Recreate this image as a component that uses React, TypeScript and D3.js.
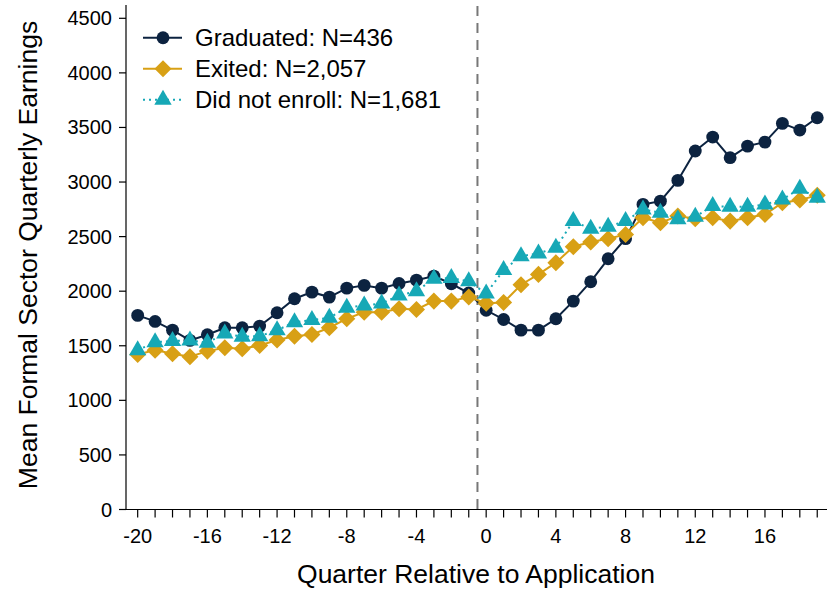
import React, { useEffect, useRef } from "react";
import * as d3 from "d3";

const width = 827;
const height = 592;

const quarters = d3.range(-20, 20);
const graduated = [
  1778, 1723, 1643, 1549, 1601, 1665, 1665, 1680, 1802, 1931, 1991, 1946, 2028, 2053, 2028, 2071, 2101, 2138, 2068, 1983,
  1825, 1741, 1643, 1643, 1747, 1909, 2087, 2297, 2481, 2795, 2825, 3015, 3284, 3412, 3223, 3329, 3366, 3537, 3476, 3589,
];
const exited = [
  1420, 1460, 1427, 1399, 1451, 1482, 1473, 1503, 1552, 1588, 1604, 1665, 1748, 1808, 1808, 1839, 1833, 1909, 1909, 1946,
  1889, 1897, 2059, 2154, 2261, 2407, 2450, 2481, 2520, 2673, 2627, 2688, 2664, 2673, 2642, 2673, 2703, 2811, 2835, 2878,
];
const notEnrolled = [
  1460, 1533, 1543, 1549, 1528, 1613, 1583, 1588, 1643, 1716, 1735, 1757, 1849, 1869, 1888, 1961, 2000, 2114, 2120, 2090,
  1978, 2193, 2321, 2346, 2398, 2642, 2572, 2591, 2642, 2749, 2719, 2658, 2682, 2780, 2774, 2774, 2795, 2841, 2939, 2856,
];
const yTicks = [0, 500, 1000, 1500, 2000, 2500, 3000, 3500, 4000, 4500];
const xLabelTicks = [-20, -16, -12, -8, -4, 0, 4, 8, 12, 16];

const series = [
  { label: "Graduated: N=436", values: graduated, color: "#0c2340", symbol: d3.symbolCircle, size: 130, dash: null },
  { label: "Exited: N=2,057", values: exited, color: "#d8a015", symbol: d3.symbolDiamond2, size: 185, dash: null },
  { label: "Did not enroll: N=1,681", values: notEnrolled, color: "#16a8b6", symbol: d3.symbolTriangle, size: 130, dash: "2,4" },
];

const font = "'Liberation Sans', Arial, sans-serif";

const x = d3.scaleLinear([-20.67, 19.56], [126, 827]);
const y = d3.scaleLinear([0, 4500], [509.5, 18.3]);

export default function App() {
  const ref = useRef<SVGSVGElement>(null);

  useEffect(() => {
    const svg = d3.select(ref.current);
    svg.selectAll("*").remove();

    // axes
    const yAxis = svg.append("g").attr("transform", `translate(126,0)`);
    yAxis.append("line").attr("x1", 0).attr("x2", 0).attr("y1", 5).attr("y2", 509.5).attr("stroke", "#000").attr("stroke-width", 1.2);
    yTicks.forEach((t) => {
      yAxis.append("line").attr("x1", -7).attr("x2", 0).attr("y1", y(t)).attr("y2", y(t)).attr("stroke", "#000").attr("stroke-width", 1.2);
      yAxis
        .append("text")
        .attr("x", -14)
        .attr("y", y(t))
        .attr("dy", "0.35em")
        .attr("text-anchor", "end")
        .attr("font-size", 20)
        .text(t);
    });

    const xAxis = svg.append("g").attr("transform", `translate(0,509.5)`);
    xAxis.append("line").attr("x1", 126).attr("x2", 827).attr("y1", 0).attr("y2", 0).attr("stroke", "#000").attr("stroke-width", 1.2);
    quarters.forEach((q) => {
      xAxis.append("line").attr("x1", x(q)).attr("x2", x(q)).attr("y1", 0).attr("y2", 8).attr("stroke", "#000").attr("stroke-width", 1.2);
    });
    xLabelTicks.forEach((q) => {
      xAxis
        .append("text")
        .attr("x", x(q))
        .attr("y", 33)
        .attr("text-anchor", "middle")
        .attr("font-size", 20)
        .text(q);
    });

    // application cutoff
    svg
      .append("line")
      .attr("x1", x(-0.5))
      .attr("x2", x(-0.5))
      .attr("y1", 6)
      .attr("y2", 509.5)
      .attr("stroke", "#777")
      .attr("stroke-width", 2)
      .attr("stroke-dasharray", "10,7");

    // series
    series.forEach((s) => {
      const pts = quarters.map((q, i) => [q, s.values[i]] as [number, number]);
      svg
        .append("path")
        .attr("d", d3.line().x((d) => x(d[0])).y((d) => y(d[1]))(pts))
        .attr("fill", "none")
        .attr("stroke", s.color)
        .attr("stroke-width", 2)
        .attr("stroke-dasharray", s.dash);
      svg
        .append("g")
        .selectAll("path")
        .data(pts)
        .join("path")
        .attr("transform", (d) => `translate(${x(d[0])},${y(d[1])})`)
        .attr("d", d3.symbol(s.symbol, s.size)())
        .attr("fill", s.color);
    });

    // legend
    const legend = svg.append("g");
    series.forEach((s, i) => {
      const ly = 37.7 + i * 31;
      legend.append("line").attr("x1", 143).attr("x2", 182).attr("y1", ly).attr("y2", ly).attr("stroke", s.color).attr("stroke-width", 2).attr("stroke-dasharray", s.dash);
      legend.append("path").attr("transform", `translate(163,${ly})`).attr("d", d3.symbol(s.symbol, s.size)()).attr("fill", s.color);
      legend.append("text").attr("x", 195).attr("y", ly).attr("dy", "0.36em").attr("font-size", 24).text(s.label);
    });

    // titles
    svg
      .append("text")
      .attr("x", 476)
      .attr("y", 583)
      .attr("text-anchor", "middle")
      .attr("font-size", 26.5)
      .text("Quarter Relative to Application");
    svg
      .append("text")
      .attr("transform", "translate(37,255) rotate(-90)")
      .attr("text-anchor", "middle")
      .attr("font-size", 26.5)
      .text("Mean Formal Sector Quarterly Earnings");
  }, []);

  return (
    <svg
      ref={ref}
      width={width}
      height={height}
      fontFamily={font}
      style={{ position: "absolute", left: 0, top: 0, background: "#fff" }}
    ></svg>
  );
}
